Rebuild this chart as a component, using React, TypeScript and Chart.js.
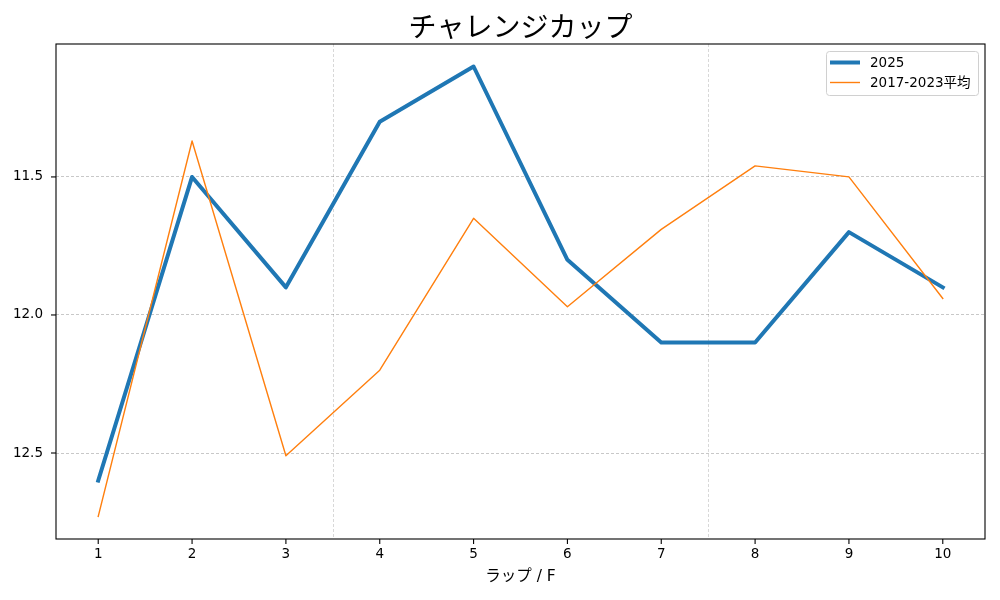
import { useEffect, useRef } from "react";
import { Chart, registerables } from "chart.js";

Chart.register(...registerables);

const laps = [1, 2, 3, 4, 5, 6, 7, 8, 9, 10];
const series2025 = [12.6, 11.5, 11.9, 11.3, 11.1, 11.8, 12.1, 12.1, 11.7, 11.9];
const seriesAvg = [12.73, 11.37, 12.51, 12.2, 11.65, 11.97, 11.69, 11.46, 11.5, 11.94];
const yTicks = [11.5, 12.0, 12.5];
const dividers = [3.5, 7.5];
const label2025 = "2025";
const labelAvg = "2017-2023平均";
const titleText = "チャレンジカップ";
const xTitle = "ラップ / F";

const FONT = "'DejaVu Sans', 'Noto Sans CJK JP', sans-serif";
const TITLE_FONT = "'Noto Sans CJK JP', sans-serif";

const overlayPlugin = {
  id: "overlay",
  beforeDatasetsDraw(chart: any) {
    const { ctx, chartArea, scales } = chart;
    ctx.save();
    ctx.strokeStyle = "rgba(0,0,0,0.22)";
    ctx.lineWidth = 0.7;
    ctx.setLineDash([3, 2]);
    for (const d of dividers) {
      const px = Math.round(scales.x.getPixelForValue(d)) + 0.5;
      ctx.beginPath();
      ctx.moveTo(px, chartArea.top);
      ctx.lineTo(px, chartArea.bottom);
      ctx.stroke();
    }
    ctx.restore();
  },
  afterDraw(chart: any) {
    const { ctx, chartArea, scales } = chart;
    const { left, right, top, bottom } = chartArea;
    ctx.save();
    ctx.strokeStyle = "#000";
    ctx.lineWidth = 1.1;
    ctx.setLineDash([]);
    for (const t of scales.x.ticks) {
      const px = scales.x.getPixelForValue(t.value);
      ctx.beginPath();
      ctx.moveTo(px, bottom);
      ctx.lineTo(px, bottom + 5);
      ctx.stroke();
    }
    for (const t of scales.y.ticks) {
      const py = scales.y.getPixelForValue(t.value);
      ctx.beginPath();
      ctx.moveTo(left, py);
      ctx.lineTo(left - 5, py);
      ctx.stroke();
    }
    ctx.strokeRect(left, top, right - left, bottom - top);

    // title centred over the plot area
    ctx.fillStyle = "#000";
    ctx.font = `28px ${TITLE_FONT}`;
    ctx.textAlign = "center";
    ctx.textBaseline = "middle";
    ctx.fillText(titleText, (left + right) / 2, 26);

    // legend
    const bx = right - 159;
    const by = top + 7;
    const bw = 152;
    const bh = 44;
    ctx.fillStyle = "rgba(255,255,255,0.85)";
    ctx.strokeStyle = "#d0d0d0";
    ctx.lineWidth = 1;
    ctx.beginPath();
    (ctx as any).roundRect(bx + 0.5, by + 0.5, bw, bh, 3);
    ctx.fill();
    ctx.stroke();
    const ds = chart.data.datasets;
    ctx.font = `13.5px ${FONT}`;
    ctx.textAlign = "left";
    ctx.textBaseline = "middle";
    ds.forEach((d: any, i: number) => {
      const ly = by + 11.5 + i * 20;
      ctx.strokeStyle = d.borderColor;
      ctx.lineWidth = d.borderWidth;
      ctx.lineCap = "butt";
      ctx.beginPath();
      ctx.moveTo(bx + 4, ly);
      ctx.lineTo(bx + 34, ly);
      ctx.stroke();
      ctx.fillStyle = "#000";
      ctx.fillText(d.label, bx + 44, ly + 0.5);
    });
    ctx.restore();
  },
};

export default function App() {
  const ref = useRef<HTMLCanvasElement | null>(null);

  useEffect(() => {
    if (!ref.current) return;
    const chart = new Chart(ref.current, {
      type: "line",
      data: {
        datasets: [
          {
            label: label2025,
            data: laps.map((x, i) => ({ x, y: series2025[i] })),
            borderColor: "#1f77b4",
            backgroundColor: "#1f77b4",
            borderWidth: 4,
            pointRadius: 0,
            borderJoinStyle: "round",
            borderCapStyle: "square",
            tension: 0,
            order: 2,
          },
          {
            label: labelAvg,
            data: laps.map((x, i) => ({ x, y: seriesAvg[i] })),
            borderColor: "#ff7f0e",
            backgroundColor: "#ff7f0e",
            borderWidth: 1.4,
            pointRadius: 0,
            borderJoinStyle: "round",
            borderCapStyle: "square",
            tension: 0,
            order: 1,
          },
        ],
      },
      options: {
        responsive: false,
        animation: false,
        events: [],
        layout: { padding: { left: 0, right: 15, top: 44, bottom: 0 } },
        plugins: {
          legend: { display: false },
          tooltip: { enabled: false },
          title: { display: false },
        },
        scales: {
          x: {
            type: "linear",
            min: 0.55,
            max: 10.45,
            afterBuildTicks: (scale: any) => {
              scale.ticks = laps.map((v) => ({ value: v }));
            },
            afterFit: (scale: any) => {
              scale.height = 61;
            },
            ticks: {
              color: "#000",
              font: { family: FONT, size: 13.5 },
              padding: 7,
              maxRotation: 0,
              autoSkip: false,
              callback: (v: any) => String(v),
            },
            grid: { display: false, drawTicks: false },
            border: { display: false },
            title: {
              display: true,
              text: xTitle,
              color: "#000",
              font: { family: FONT, size: 15.5 },
              padding: { top: 0, bottom: 14 },
            },
          },
          y: {
            type: "linear",
            reverse: true,
            min: 11.0185,
            max: 12.8115,
            afterBuildTicks: (scale: any) => {
              scale.ticks = yTicks.map((v) => ({ value: v }));
            },
            afterFit: (scale: any) => {
              scale.width = 56;
            },
            ticks: {
              color: "#000",
              font: { family: FONT, size: 13.5 },
              padding: 13,
              autoSkip: false,
              callback: (v: any) => Number(v).toFixed(1),
            },
            grid: {
              color: "#b0b0b0",
              lineWidth: 0.7,
              drawTicks: false,
            },
            border: { display: false, dash: [3, 2] },
          },
        },
      },
      plugins: [overlayPlugin],
    } as any);
    return () => chart.destroy();
  }, []);

  return (
    <div style={{ position: "fixed", left: 0, top: 0, width: 1000, height: 600, background: "#fff" }}>
      <canvas ref={ref} width={1000} height={600} style={{ width: 1000, height: 600, display: "block" }} />
    </div>
  );
}
